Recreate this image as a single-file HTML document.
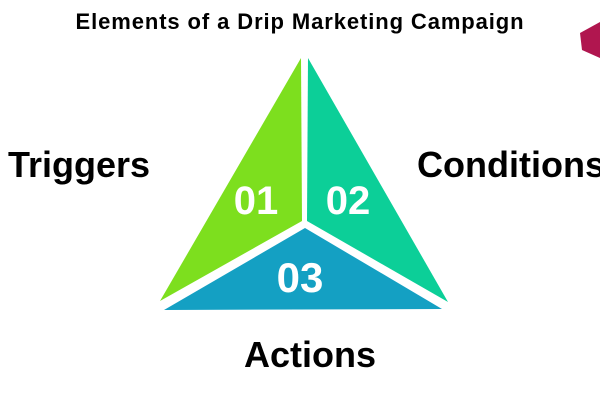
<!DOCTYPE html>
<html><head><style>
body{margin:0;width:600px;height:400px;background:#fff;overflow:hidden;position:relative;font-family:"Liberation Sans",sans-serif;font-weight:bold;color:#000}
.t{position:absolute;white-space:nowrap}
</style></head><body>
<div class="t" style="left:0;width:600px;text-align:center;top:9px;font-size:22px;letter-spacing:0.9px;">Elements of a Drip Marketing Campaign</div>
<svg width="600" height="400" style="position:absolute;left:0;top:0">
<polygon points="580,33 600,22 600,58 582,50" fill="#b0164f"/>
<polygon points="301,58 302,221 160,301" fill="#7ddf1e"/>
<polygon points="308,58 448,302 307,221" fill="#0ccf98"/>
<polygon points="305,228 442,309 164,310" fill="#14a0c3"/>
<g fill="#fff" font-family="Liberation Sans,sans-serif" font-weight="bold" text-anchor="middle">
<text x="256" y="214" font-size="40">01</text>
<text x="348" y="214" font-size="40">02</text>
<text x="300" y="292" font-size="42">03</text>
</g>
</svg>
<div class="t" style="left:8px;top:144px;font-size:36px;">Triggers</div>
<div class="t" style="left:417px;top:144px;font-size:36px;">Conditions</div>
<div class="t" style="left:244px;top:334px;font-size:36px;">Actions</div>
</body></html>
